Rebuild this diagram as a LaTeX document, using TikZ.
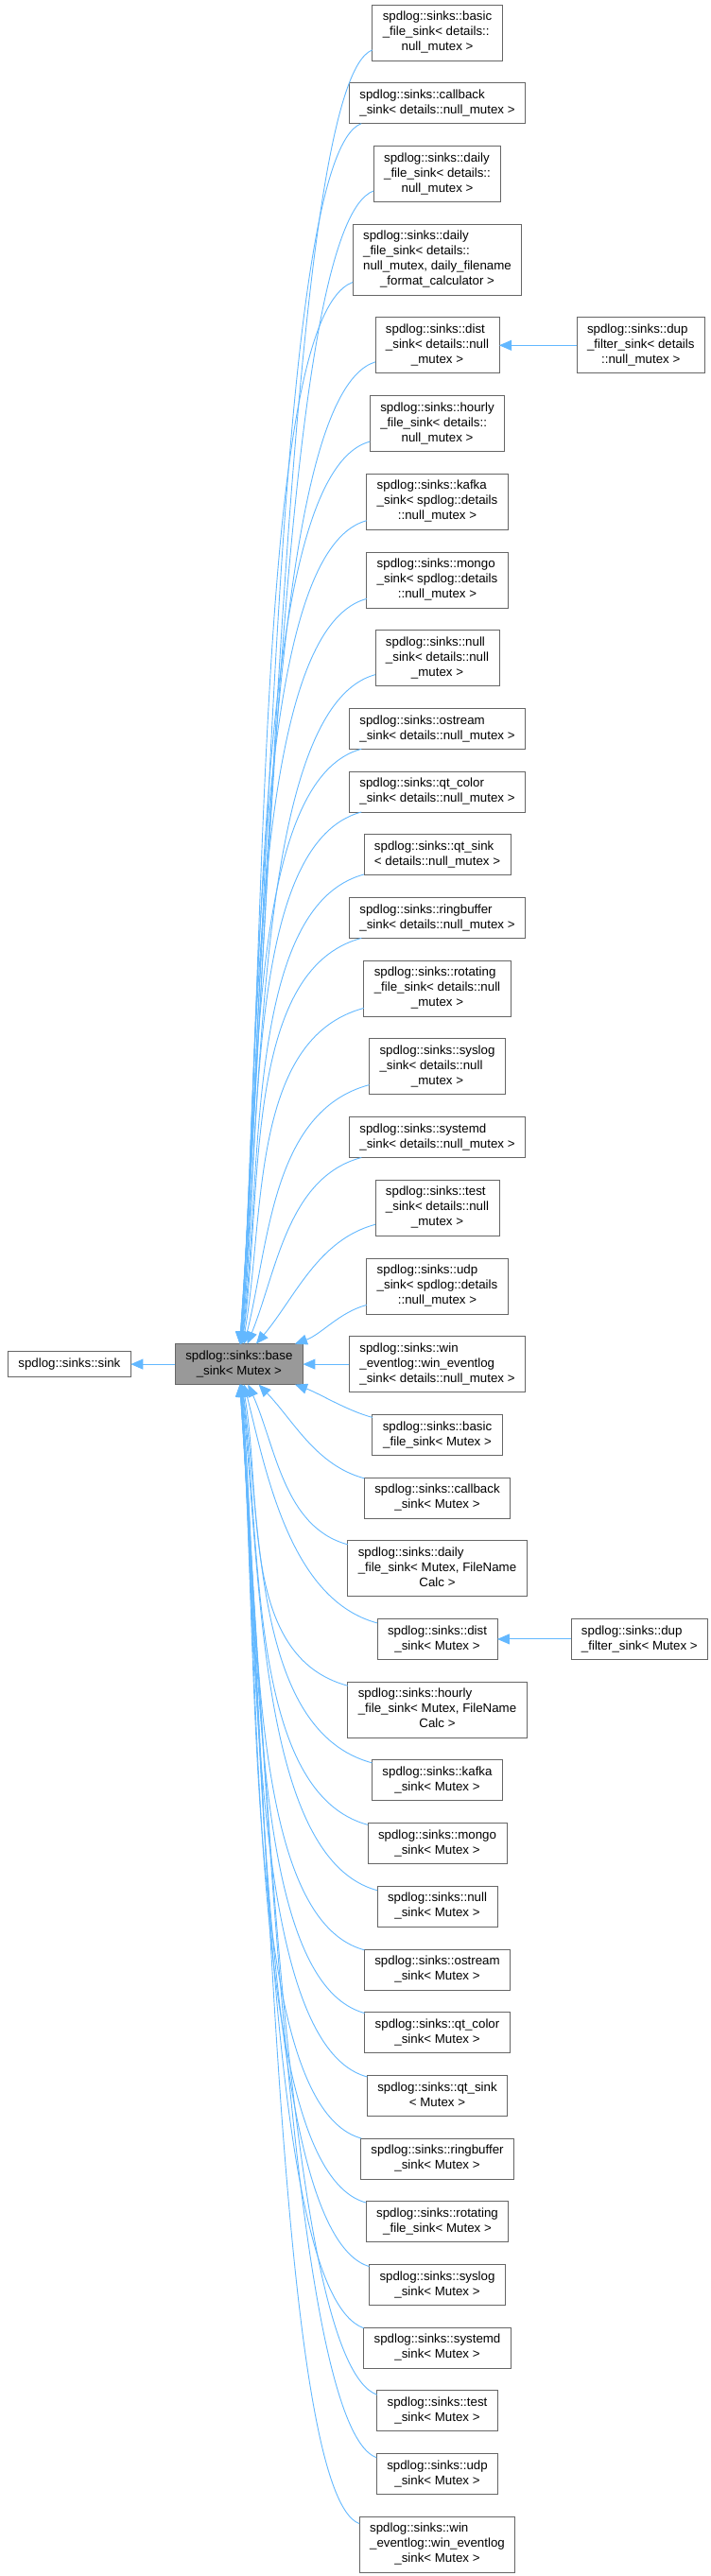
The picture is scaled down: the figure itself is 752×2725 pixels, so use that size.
\documentclass[tikz,border=0pt]{standalone}
\usepackage{fontspec}
\setmainfont{Liberation Sans}
\usepackage{xcolor}
\usetikzlibrary{positioning, arrows.meta}

\definecolor{inhblue}{HTML}{63B8FF}
\definecolor{boxline}{HTML}{666666}
\definecolor{boxfill}{HTML}{999999}

% doxygen style label: lines left aligned, last line centred
\newcommand{\lbl}[2]{\begin{tabular}{@{}l@{}}#1\\\multicolumn{1}{@{}c@{}}{#2}\end{tabular}}

\begin{document}
\begin{tikzpicture}[x=1pt,y=1pt,node distance=23.7pt,
    every node/.style={font=\fontsize{13.3}{16}\selectfont},
    klass/.style={draw=boxline,line width=0.8pt,fill=white,outer sep=0pt,inner xsep=11pt,inner ysep=5.5pt},
    inh/.style={draw=inhblue,line width=0.9pt,-{Triangle[length=13pt,width=11pt]}}]
       \useasboundingbox (0,0) rectangle (752,-2725);

       % null_mutex sinks
       \node[klass,anchor=north] (n1) at (462.5,-5) {\lbl{spdlog::sinks::basic\\\_file\_sink< details::}{null\_mutex >}};
       \node[klass] (n2) [below=of n1] {\lbl{spdlog::sinks::callback}{\_sink< details::null\_mutex >}};
       \node[klass] (n3) [below=of n2] {\lbl{spdlog::sinks::daily\\\_file\_sink< details::}{null\_mutex >}};
       \node[klass] (n4) [below=of n3] {\lbl{spdlog::sinks::daily\\\_file\_sink< details::\\null\_mutex, daily\_filename}{\_format\_calculator >}};
       \node[klass] (n5) [below=of n4] {\lbl{spdlog::sinks::dist\\\_sink< details::null}{\_mutex >}};
       \node[klass] (d1) [right=82pt of n5] {\lbl{spdlog::sinks::dup\\\_filter\_sink< details}{::null\_mutex >}};
       \node[klass] (n6) [below=of n5] {\lbl{spdlog::sinks::hourly\\\_file\_sink< details::}{null\_mutex >}};
       \node[klass] (n7) [below=of n6] {\lbl{spdlog::sinks::kafka\\\_sink< spdlog::details}{::null\_mutex >}};
       \node[klass] (n8) [below=of n7] {\lbl{spdlog::sinks::mongo\\\_sink< spdlog::details}{::null\_mutex >}};
       \node[klass] (n9) [below=of n8] {\lbl{spdlog::sinks::null\\\_sink< details::null}{\_mutex >}};
       \node[klass] (n10) [below=of n9] {\lbl{spdlog::sinks::ostream}{\_sink< details::null\_mutex >}};
       \node[klass] (n11) [below=of n10] {\lbl{spdlog::sinks::qt\_color}{\_sink< details::null\_mutex >}};
       \node[klass] (n12) [below=of n11] {\lbl{spdlog::sinks::qt\_sink}{< details::null\_mutex >}};
       \node[klass] (n13) [below=of n12] {\lbl{spdlog::sinks::ringbuffer}{\_sink< details::null\_mutex >}};
       \node[klass] (n14) [below=of n13] {\lbl{spdlog::sinks::rotating\\\_file\_sink< details::null}{\_mutex >}};
       \node[klass] (n15) [below=of n14] {\lbl{spdlog::sinks::syslog\\\_sink< details::null}{\_mutex >}};
       \node[klass] (n16) [below=of n15] {\lbl{spdlog::sinks::systemd}{\_sink< details::null\_mutex >}};
       \node[klass] (n17) [below=of n16] {\lbl{spdlog::sinks::test\\\_sink< details::null}{\_mutex >}};
       \node[klass] (n18) [below=of n17] {\lbl{spdlog::sinks::udp\\\_sink< spdlog::details}{::null\_mutex >}};
       \node[klass] (n19) [below=of n18] {\lbl{spdlog::sinks::win\\\_eventlog::win\_eventlog}{\_sink< details::null\_mutex >}};

       % base class and its parent
       \node[klass,fill=boxfill] (b) [left=49pt of n19] {\lbl{spdlog::sinks::base}{\_sink< Mutex >}};
       \node[klass] (s) [left=47pt of b] {\begin{tabular}{@{}c@{}}spdlog::sinks::sink\end{tabular}};

       % Mutex sinks
       \node[klass] (m1) [below=of n19] {\lbl{spdlog::sinks::basic}{\_file\_sink< Mutex >}};
       \node[klass] (m2) [below=of m1] {\lbl{spdlog::sinks::callback}{\_sink< Mutex >}};
       \node[klass] (m3) [below=of m2] {\lbl{spdlog::sinks::daily\\\_file\_sink< Mutex, FileName}{Calc >}};
       \node[klass] (m4) [below=of m3] {\lbl{spdlog::sinks::dist}{\_sink< Mutex >}};
       \node[klass] (d2) [right=78pt of m4] {\lbl{spdlog::sinks::dup}{\_filter\_sink< Mutex >}};
       \node[klass] (m5) [below=of m4] {\lbl{spdlog::sinks::hourly\\\_file\_sink< Mutex, FileName}{Calc >}};
       \node[klass] (m6) [below=of m5] {\lbl{spdlog::sinks::kafka}{\_sink< Mutex >}};
       \node[klass] (m7) [below=of m6] {\lbl{spdlog::sinks::mongo}{\_sink< Mutex >}};
       \node[klass] (m8) [below=of m7] {\lbl{spdlog::sinks::null}{\_sink< Mutex >}};
       \node[klass] (m9) [below=of m8] {\lbl{spdlog::sinks::ostream}{\_sink< Mutex >}};
       \node[klass] (m10) [below=of m9] {\lbl{spdlog::sinks::qt\_color}{\_sink< Mutex >}};
       \node[klass] (m11) [below=of m10] {\lbl{spdlog::sinks::qt\_sink}{< Mutex >}};
       \node[klass] (m12) [below=of m11] {\lbl{spdlog::sinks::ringbuffer}{\_sink< Mutex >}};
       \node[klass] (m13) [below=of m12] {\lbl{spdlog::sinks::rotating}{\_file\_sink< Mutex >}};
       \node[klass] (m14) [below=of m13] {\lbl{spdlog::sinks::syslog}{\_sink< Mutex >}};
       \node[klass] (m15) [below=of m14] {\lbl{spdlog::sinks::systemd}{\_sink< Mutex >}};
       \node[klass] (m16) [below=of m15] {\lbl{spdlog::sinks::test}{\_sink< Mutex >}};
       \node[klass] (m17) [below=of m16] {\lbl{spdlog::sinks::udp}{\_sink< Mutex >}};
       \node[klass] (m18) [below=of m17] {\lbl{spdlog::sinks::win\\\_eventlog::win\_eventlog}{\_sink< Mutex >}};

       % inheritance arrows from above
       \draw[inh] (n1.195) .. controls +(200:90) and +(86:495) .. (b.88);
       \draw[inh] (n2.195) .. controls +(200:95) and +(86:467) .. (b.88);
       \draw[inh] (n3.195) .. controls +(200:100) and +(86:441) .. (b.87);
       \draw[inh] (n4.195) .. controls +(200:110) and +(86:407) .. (b.87);
       \draw[inh] (n5.195) .. controls +(197:120) and +(86:377) .. (b.87);
       \draw[inh] (n6.195) .. controls +(195:130) and +(86:347) .. (b.86);
       \draw[inh] (n7.195) .. controls +(195:130) and +(86:318) .. (b.86);
       \draw[inh] (n8.195) .. controls +(195:130) and +(86:288) .. (b.86);
       \draw[inh] (n9.195) .. controls +(195:130) and +(85:259) .. (b.85);
       \draw[inh] (n10.195) .. controls +(195:130) and +(85:231) .. (b.85);
       \draw[inh] (n11.195) .. controls +(195:130) and +(84:208) .. (b.84);
       \draw[inh] (n12.195) .. controls +(195:130) and +(83:184) .. (b.83);
       \draw[inh] (n13.195) .. controls +(195:130) and +(82:161) .. (b.82);
       \draw[inh] (n14.195) .. controls +(195:125) and +(80:137) .. (b.80);
       \draw[inh] (n15.195) .. controls +(195:107) and +(76:109) .. (b.76);
       \draw[inh] (n16.195) .. controls +(195:81) and +(68:83) .. (b.68);
       \draw[inh] (n17.195) .. controls +(195:63) and +(50:64) .. (b.50);
       \draw[inh] (n18.195) .. controls +(195:30) and +(20:30) .. (b.20);
       \draw[inh] (n19) -- (b);

       % inheritance arrows from below
       \draw[inh] (m1.165) .. controls +(165:28) and +(-20:28) .. (b.-20);
       \draw[inh] (m2.165) .. controls +(165:53) and +(-46:53) .. (b.-46);
       \draw[inh] (m3.165) .. controls +(165:70) and +(-66:72) .. (b.-66);
       \draw[inh] (m4.165) .. controls +(165:95) and +(-76:97) .. (b.-76);
       \draw[inh] (m5.165) .. controls +(165:119) and +(-80:121) .. (b.-80);
       \draw[inh] (m6.165) .. controls +(165:130) and +(-82:151) .. (b.-82);
       \draw[inh] (m7.165) .. controls +(165:130) and +(-83:174) .. (b.-83);
       \draw[inh] (m8.165) .. controls +(165:130) and +(-84:198) .. (b.-84);
       \draw[inh] (m9.165) .. controls +(165:130) and +(-85:221) .. (b.-85);
       \draw[inh] (m10.165) .. controls +(165:130) and +(-85:245) .. (b.-85);
       \draw[inh] (m11.165) .. controls +(165:130) and +(-86:268) .. (b.-86);
       \draw[inh] (m12.165) .. controls +(165:130) and +(-86:292) .. (b.-86);
       \draw[inh] (m13.165) .. controls +(165:130) and +(-86:315) .. (b.-86);
       \draw[inh] (m14.165) .. controls +(163:120) and +(-86:339) .. (b.-87);
       \draw[inh] (m15.165) .. controls +(160:110) and +(-86:363) .. (b.-87);
       \draw[inh] (m16.165) .. controls +(160:100) and +(-86:387) .. (b.-87);
       \draw[inh] (m17.165) .. controls +(160:95) and +(-86:411) .. (b.-88);
       \draw[inh] (m18.165) .. controls +(160:90) and +(-86:435) .. (b.-88);

       \draw[inh] (d1) -- (n5);
       \draw[inh] (d2) -- (m4);
       \draw[inh] (b) -- (s);
    \end{tikzpicture}
\end{document}
